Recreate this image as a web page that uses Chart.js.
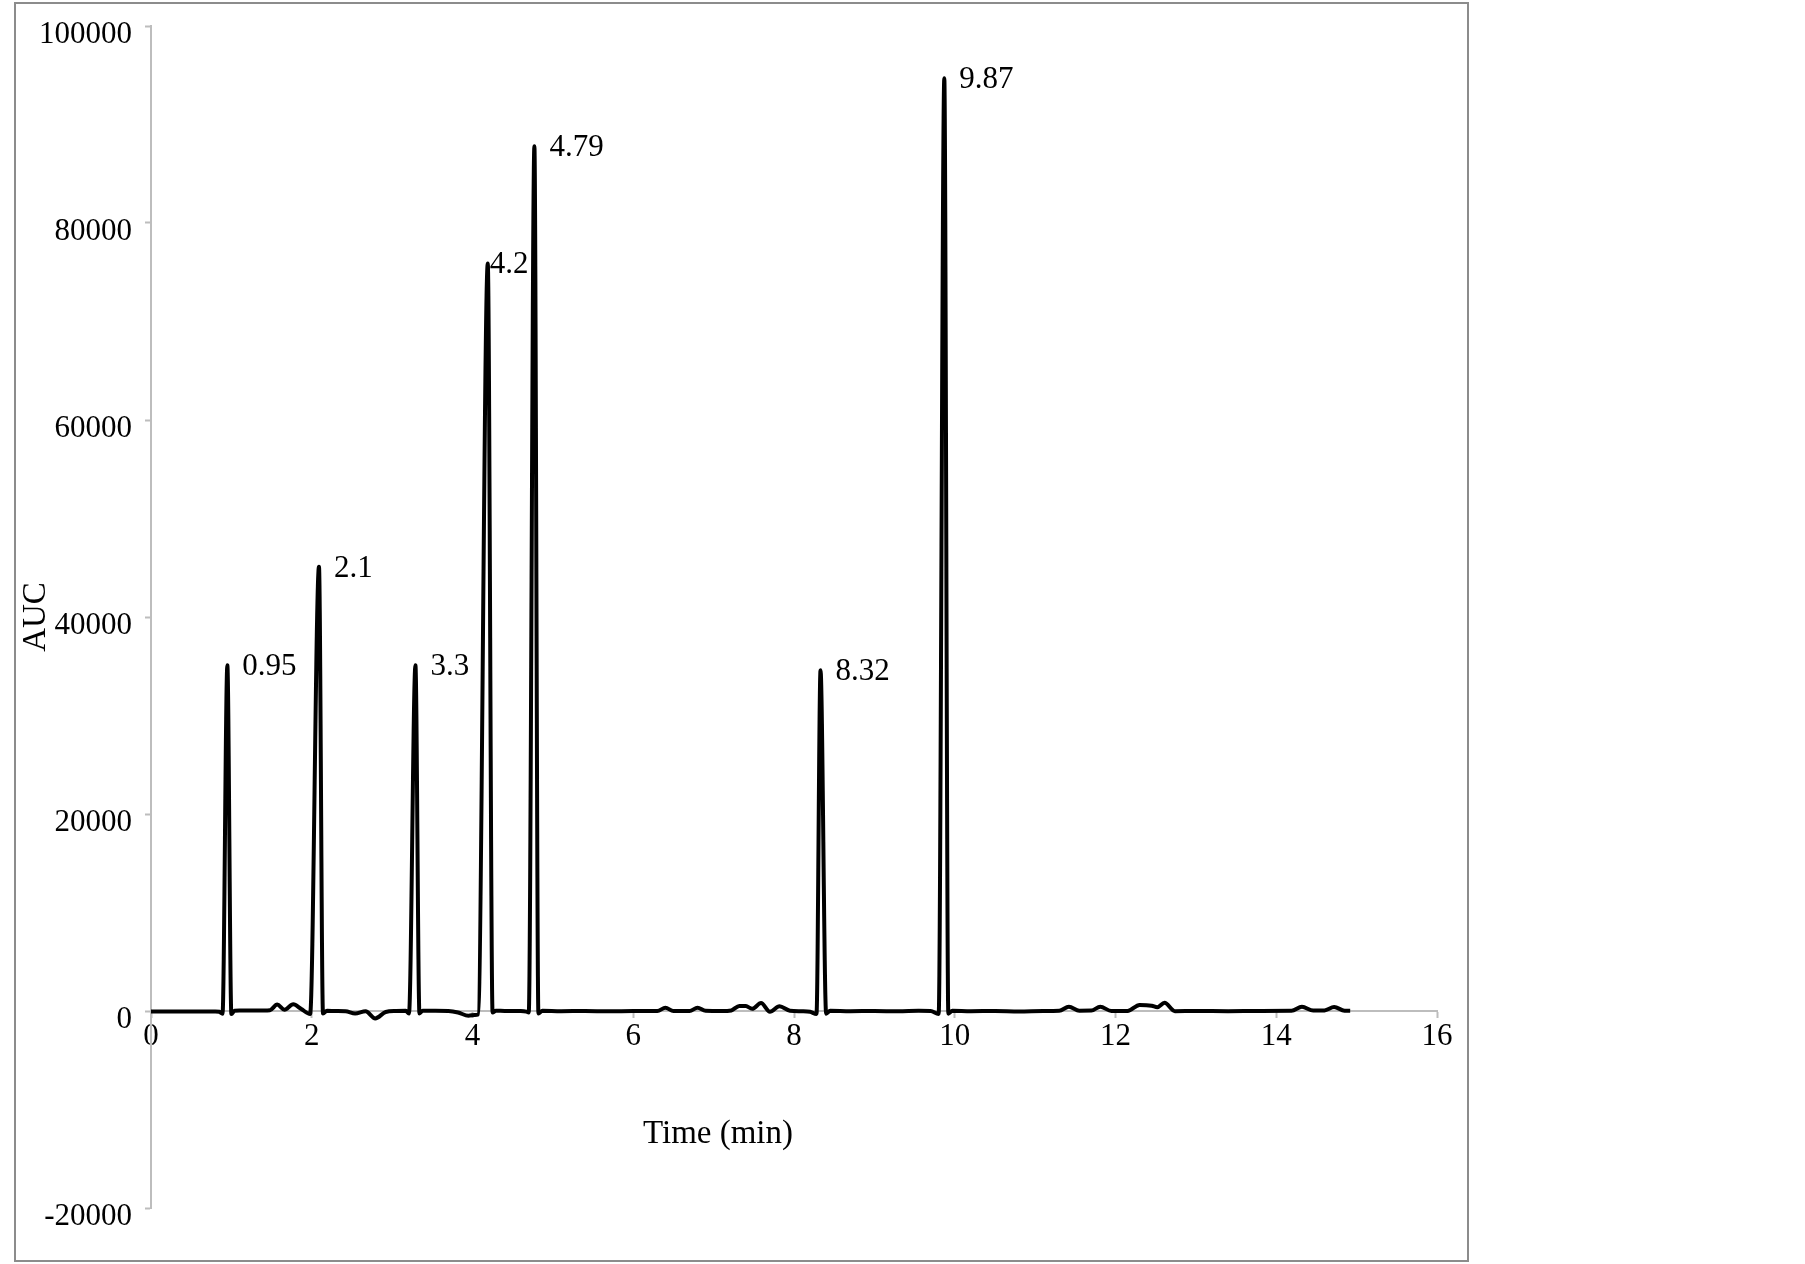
<!DOCTYPE html>
<html>
<head>
<meta charset="utf-8">
<title>Chromatogram - AUC vs Time</title>
<script src="https://cdn.jsdelivr.net/npm/chart.js@4.4.1/dist/chart.umd.min.js"></script>
<style>
    html, body { margin: 0; padding: 0; background: #ffffff; }
    #chart { display: block; }
</style>
</head>
<body>
<canvas id="chart" width="1805" height="1264"></canvas>
<script>
// Retention time (min) and detector response (AUC)
const time = [
    0.00, 0.40, 0.80, 0.85, 0.89, 0.95, 1.00, 1.04,
    1.10, 1.30, 1.48, 1.57, 1.66, 1.77, 1.87, 1.98, 2.09, 2.14, 2.19,
    2.30, 2.42, 2.54, 2.67, 2.79, 2.92, 3.05, 3.17, 3.21, 3.29, 3.34, 3.38,
    3.50, 3.70, 3.82, 3.95, 4.03, 4.07, 4.19, 4.25, 4.29,
    4.40, 4.60, 4.67, 4.70, 4.77, 4.82, 4.87,
    5.10, 5.40, 5.70, 6.00, 6.30, 6.40, 6.50, 6.70, 6.80, 6.90, 7.10, 7.22, 7.32, 7.40, 7.48,
    7.59, 7.70, 7.82, 7.95, 8.10, 8.20, 8.28, 8.33, 8.40, 8.45,
    8.70, 9.00, 9.30, 9.55, 9.70, 9.80, 9.87, 9.92, 9.97,
    10.20, 10.50, 10.80, 11.10, 11.30, 11.42, 11.55, 11.70, 11.81, 11.95, 12.15,
    12.30, 12.45, 12.52, 12.61, 12.74, 13.00, 13.40, 13.80, 14.19, 14.32, 14.46,
    14.60, 14.72, 14.85, 14.92
];
const auc = [
    -50, -60, -40, -80, -280, 35100, -300, 30,
    50, 40, 80, 650, 120, 680, 200, -300, 45100, -250, 20,
    0, -20, -250, -30, -750, -100, 0, 20, -250, 35100, -250, 30,
    20, 0, -150, -480, -400, -350, 75900, -150, 20,
    10, 0, -60, -150, 87800, -250, 20,
    -20, 0, -30, -10, 0, 330, 0, 0, 330, 20, 0, 60, 520, 500, 230,
    800, -80, 480, 30, -20, -80, -300, 34600, -280, 20,
    -20, 0, -30, 20, 10, -300, 94700, -280, 20,
    -20, 0, -40, 0, 20, 430, 30, 40, 430, 0, 0,
    620, 540, 380, 830, -20, 0, -20, 10, 20, 430, 40,
    60, 400, 30, 20
];

// Peak annotations (retention times printed next to each peak)
const peakLabels = ['0.95', '2.1', '3.3', '4.2', '4.79', '8.32', '9.87'];

// Axis ranges and tick steps
const xTicks = { min: 0, max: 16, step: 2 };
const yTicks = { min: -20000, max: 100000, step: 20000 };

const serif = "'Liberation Serif', 'Times New Roman', serif";
const axisGray = '#bdbdbd';

Chart.defaults.font.family = serif;
Chart.defaults.color = '#000000';

// Outer frame, axis titles and peak labels
const decorations = {
    id: 'decorations',
    beforeDraw(chart) {
        const ctx = chart.ctx;
        ctx.save();
        ctx.fillStyle = '#ffffff';
        ctx.fillRect(0, 0, chart.width, chart.height);
        ctx.strokeStyle = '#8c8c8c';
        ctx.lineWidth = 2;
        ctx.strokeRect(15, 3, 1453, 1258);
        ctx.restore();
    },
    afterDraw(chart) {
        const ctx = chart.ctx;
        const xs = chart.scales.x;
        const ys = chart.scales.y;
        ctx.save();
        ctx.fillStyle = '#000000';

        // axis titles
        ctx.font = '33px ' + serif;
        ctx.textAlign = 'center';
        ctx.textBaseline = 'alphabetic';
        ctx.fillText('Time (min)', 718, 1143);
        ctx.save();
        ctx.translate(45, (chart.chartArea.top + chart.chartArea.bottom) / 2);
        ctx.rotate(-Math.PI / 2);
        ctx.fillText('AUC', 0, 0);
        ctx.restore();

        // peak labels next to the apex of each peak
        ctx.font = '31px ' + serif;
        ctx.textAlign = 'left';
        peakLabels.forEach(label => {
            const t = parseFloat(label);
            let best = -1;
            time.forEach((v, i) => {
                if (Math.abs(v - t) < 0.1 && (best < 0 || auc[i] > auc[best])) best = i;
            });
            if (best < 0) return;
            const px = xs.getPixelForValue(time[best]);
            const py = ys.getPixelForValue(auc[best]);
            const dx = label === '4.2' ? 2 : 15;
            ctx.fillText(label, px + dx, py + 10);
        });
        ctx.restore();
    }
};

const points = time.map((t, i) => ({ x: t, y: auc[i] }));

const ctx = document.getElementById('chart').getContext('2d');
const chromatogram = new Chart(ctx, {
    type: 'line',
    data: {
        datasets: [{
            label: 'AUC',
            data: points,
            borderColor: '#000000',
            borderWidth: 4,
            borderJoinStyle: 'round',
            pointRadius: 0,
            cubicInterpolationMode: 'monotone',
            fill: false
        }]
    },
    options: {
        responsive: false,
        animation: false,
        layout: {
            padding: { left: 40, top: 26, right: 368, bottom: 56 }
        },
        plugins: {
            legend: { display: false },
            tooltip: { enabled: false }
        },
        scales: {
            x: {
                type: 'linear',
                min: xTicks.min,
                max: xTicks.max,
                position: { y: 0 },
                ticks: {
                    stepSize: xTicks.step,
                    font: { size: 31 },
                    padding: 1,
                    maxRotation: 0,
                    callback: value => String(value)
                },
                grid: {
                    drawOnChartArea: false,
                    drawTicks: true,
                    tickLength: 6,
                    tickWidth: 2,
                    tickColor: axisGray
                },
                border: { color: axisGray, width: 2 },
                afterFit(scale) {
                    scale.paddingLeft = 0;
                    scale.paddingRight = 0;
                }
            },
            y: {
                min: yTicks.min,
                max: yTicks.max,
                position: 'left',
                ticks: {
                    stepSize: yTicks.step,
                    font: { size: 31 },
                    padding: 13,
                    labelOffset: 9,
                    callback: value => String(value)
                },
                grid: {
                    drawOnChartArea: false,
                    drawTicks: true,
                    tickLength: 6,
                    tickWidth: 2,
                    tickColor: axisGray
                },
                border: { color: axisGray, width: 2 },
                afterFit(scale) {
                    scale.width = 111;
                    scale.paddingTop = 0;
                    scale.paddingBottom = 0;
                }
            }
        }
    },
    plugins: [decorations]
});
</script>
</body>
</html>
